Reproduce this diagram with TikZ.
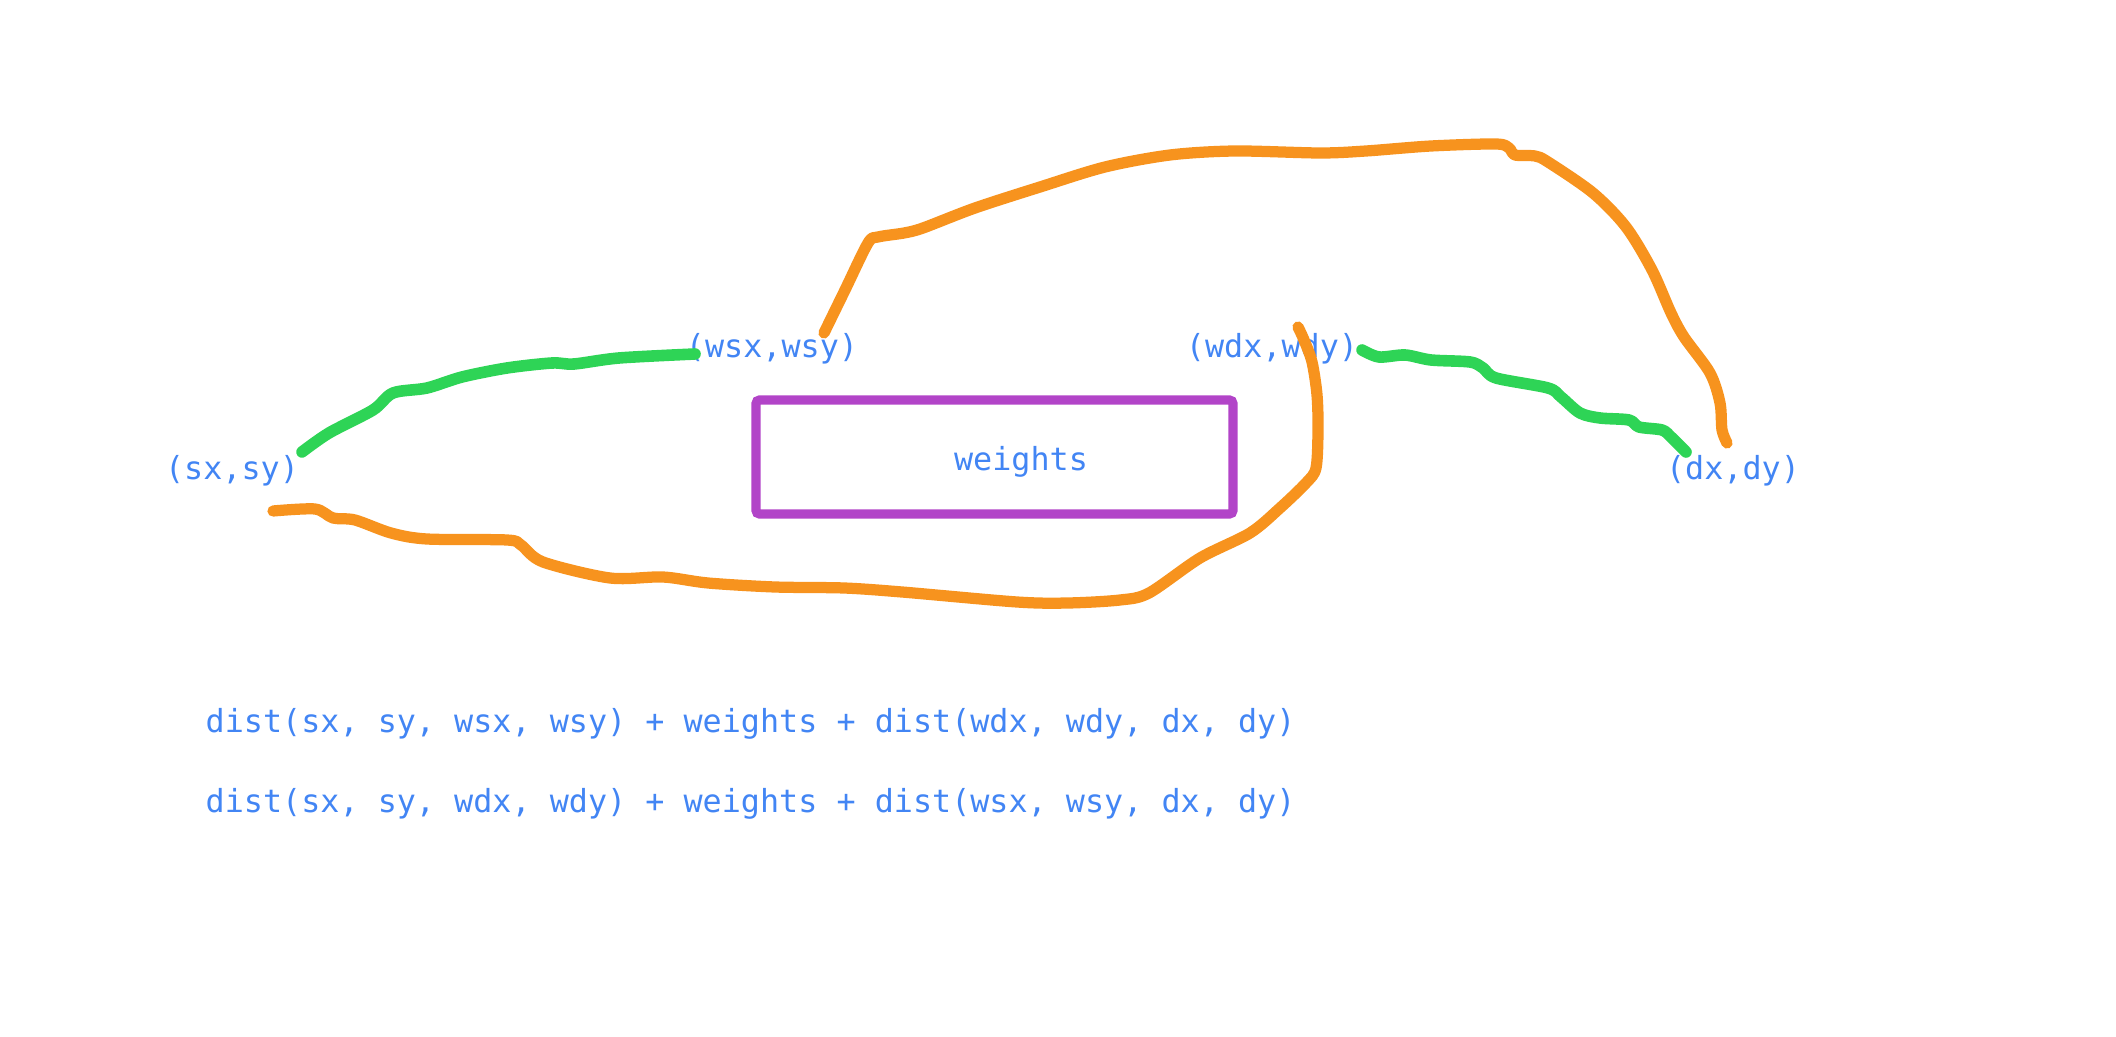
\documentclass[tikz,border=0pt]{standalone}
\usepackage{fontspec}
\usepackage{xcolor}
\usepackage{tikz}
\setmonofont{DejaVu Sans Mono}
\definecolor{textblue}{RGB}{66,133,244}
\definecolor{pengreen}{RGB}{46,212,86}
\definecolor{penorange}{RGB}{247,147,30}
\definecolor{boxpurple}{RGB}{178,68,200}

\begin{document}
\begin{tikzpicture}[x=0.01cm,y=-0.01cm,
		lbl/.style={anchor=base,inner sep=0pt,text=textblue,font=\ttfamily\fontsize{9.03}{11}\selectfont},
		greenpen/.style={draw=pengreen,line width=3.3pt,line cap=round,line join=round},
		orangepen/.style={draw=penorange,line width=3.2pt,line cap=round,line join=round}]
				\useasboundingbox (0,0) rectangle (2116,1037);
				
				\node[lbl] (s) at (232,480) {(sx,sy)};
				\node[lbl] (ws) at (772,358) {(wsx,wsy)};
				\node[lbl] (wd) at (1272,358) {(wdx,wdy)};
				\node[lbl] (d) at (1733,480) {(dx,dy)};
				
				\draw[boxpurple,line width=2.6pt,rounded corners=1pt] (756,400) rectangle (1233,514);
				\node[lbl] (w) at (1021,471) {weights};
				
				\node[lbl,anchor=base west] (f1) at (205,732) {dist(sx, sy, wsx, wsy) + weights + dist(wdx, wdy, dx, dy)};
				\node[lbl,anchor=base west] (f2) at (205,812) {dist(sx, sy, wdx, wdy) + weights + dist(wsx, wsy, dx, dy)};
				
				\coordinate (g1) at (302,452);%near (sx,sy)
				\coordinate (g2) at (695,354);%near (wsx,wsy)
				\coordinate (g3) at (1362,350);%near (wdx,wdy)
				\coordinate (g4) at (1686,452);%near (dx,dy)
				\coordinate (o1) at (824,333);%top of (wsx,wsy)
				\coordinate (o2) at (1727,443);%top of (dx,dy)
				\coordinate (o3) at (273,511);%under (sx,sy)
				\coordinate (o4) at (1298,327);%over (wdx,wdy)
				
				% s -> ws -> box -> wd -> d
				\draw[greenpen] plot[smooth,tension=0.5] coordinates {(g1) (329,433) (373,410) (393,393) (427,388) (462,377) (507,368) (552,363) (574,364) (619,358) (g2)};
				\draw[greenpen] plot[smooth,tension=0.5] coordinates {(g3) (1379,357) (1405,355) (1431,360) (1470,362) (1483,368) (1496,378) (1548,388) (1561,397) (1580,413) (1600,418) (1629,420) (1639,427) (1662,430) (1671,437) (g4)};
				
				% s -> wd -> box -> ws -> d
				\draw[orangepen] plot[smooth,tension=0.5] coordinates {(o1) (845,290) (868,243) (878,237) (904,233) (923,228) (975,208) (1040,187) (1105,167) (1170,155) (1235,151) (1320,153) (1366,151) (1431,146) (1496,144) (1509,148) (1515,155) (1535,156) (1548,162) (1593,193) (1626,227) (1652,270) (1671,313) (1684,337) (1710,373) (1720,403) (1722,430) (o2)};
				\draw[orangepen] plot[smooth,tension=0.5] coordinates {(o3) (315,509) (333,518) (355,520) (391,533) (427,539) (507,540) (521,545) (543,562) (610,578) (663,577) (708,583) (775,587) (844,588) (902,592) (1017,602) (1068,603) (1120,600) (1149,593) (1200,558) (1250,533) (1280,508) (1306,483) (1316,468) (1318,430) (1317,395) (1312,362) (1304,340) (o4)};
			\end{tikzpicture}
\end{document}
